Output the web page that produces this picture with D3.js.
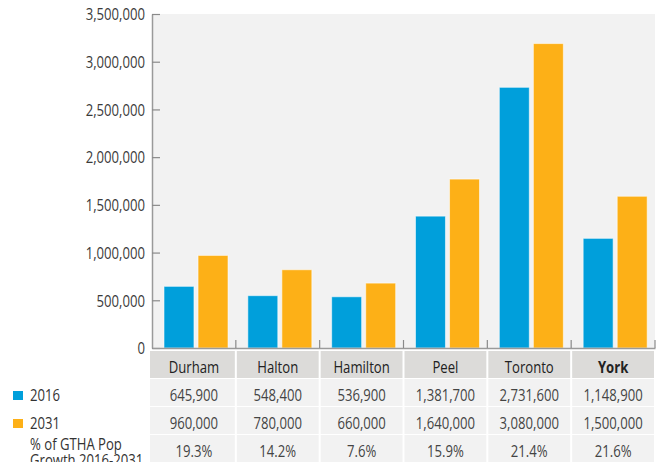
<!DOCTYPE html>
<html><head><meta charset="utf-8">
<script src="https://cdn.jsdelivr.net/npm/d3@7"></script>
<style>
html,body{margin:0;padding:0;background:#fff;}
svg text{font-family:"Open Sans",sans-serif;}
</style></head>
<body>
<svg id="c" width="657" height="462"></svg>
<script>
const categories = ["Durham","Halton","Hamilton","Peel","Toronto","York"];
const series = ["2016","2031"];
const bars2016 = [645900, 548400, 536900, 1381700, 2731600, 1148900];
const bars2031 = [970000, 820000, 680000, 1770000, 3190000, 1590000];
const table2016 = ["645,900","548,400","536,900","1,381,700","2,731,600","1,148,900"];
const table2031 = ["960,000","780,000","660,000","1,640,000","3,080,000","1,500,000"];
const tableGrowth = ["19.3%","14.2%","7.6%","15.9%","21.4%","21.6%"];
const yTicks = [0,500000,1000000,1500000,2000000,2500000,3000000,3500000];
const colors = {"2016":"#009fdb","2031":"#fdb017"};

const FS = 16, SX = 0.82; // condensed look via horizontal scaling
const svg = d3.select("#c");
const L = 152, R = 655, T = 14, B = 348;
const x0 = d3.scaleBand().domain(categories).range([L, R]).padding(0);
const x1 = d3.scaleBand().domain(series).range([12, 76]).paddingInner(0.12);
const y = d3.scaleLinear().domain([0, 3500000]).range([B, T]);

function ctext(sel, x, y, str, opts = {}) {
  return sel.append("text")
    .attr("transform", `translate(${x},${y}) scale(${SX},1)`)
    .attr("text-anchor", opts.anchor || "start")
    .attr("font-size", FS)
    .attr("font-weight", opts.weight || 400)
    .attr("fill", opts.fill || "#333")
    .text(str);
}

// plot background
svg.append("rect").attr("x", L).attr("y", T).attr("width", R - L).attr("height", B - T).attr("fill", "#f2f2f2");

// bars
const data = categories.map((c, i) => ({cat: c, vals: [{s: "2016", v: bars2016[i]}, {s: "2031", v: bars2031[i]}]}));
const g = svg.append("g").selectAll("g").data(data).join("g").attr("transform", d => `translate(${x0(d.cat)},0)`);
g.selectAll("rect").data(d => d.vals).join("rect")
  .attr("x", d => x1(d.s)).attr("width", x1.bandwidth())
  .attr("y", d => y(d.v)).attr("height", d => B - y(d.v))
  .attr("fill", d => colors[d.s])
  .attr("stroke", "rgba(255,255,255,0.55)").attr("stroke-width", 1);

// y axis
const yAxis = d3.axisLeft(y).tickValues(yTicks).tickFormat(d3.format(",")).tickSizeInner(-8).tickSizeOuter(0).tickPadding(7);
const ya = svg.append("g").attr("transform", `translate(${L},0)`).call(yAxis);
ya.select(".domain").attr("stroke", "#9a9a9a").attr("stroke-width", 1.5);
ya.selectAll(".tick line").attr("stroke", "#8a8a8a").attr("stroke-width", 1.2);
ya.selectAll(".tick text").attr("font-size", FS).attr("fill", "#3a3a3a")
  .attr("font-family", "Open Sans, sans-serif")
  .attr("x", -7 / SX).attr("dy", "0.36em")
  .attr("transform", `scale(${SX},1)`);

// baseline + category separators
const xAxis = d3.axisBottom(x0).tickSize(0).tickFormat("");
const xa = svg.append("g").attr("transform", `translate(0,${B})`).call(xAxis);
xa.select(".domain").attr("stroke", "#9a9a9a").attr("stroke-width", 1.5);
const seps = categories.map(c => x0(c) + x0.bandwidth());
svg.append("g").selectAll("line").data(seps).join("line")
  .attr("x1", d => d).attr("x2", d => d).attr("y1", B - 8).attr("y2", B)
  .attr("stroke", "#8a8a8a").attr("stroke-width", 1.2);

// table
const rowTops = [351, 379, 407, 435];
const rowH = 27;
const rows = [categories, table2016, table2031, tableGrowth];
rows.forEach((row, ri) => {
  const tg = svg.append("g");
  tg.selectAll("rect").data(categories).join("rect")
    .attr("x", (c, i) => x0(c) + (i === 0 ? -2 : 1)).attr("width", (c, i) => x0.bandwidth() - (i === 0 ? -1 : 2))
    .attr("y", rowTops[ri]).attr("height", rowH)
    .attr("fill", ri === 0 ? "#dcdbd9" : "#f2f2f2");
  row.forEach((d, i) => {
    ctext(tg, x0(categories[i]) + x0.bandwidth() / 2, rowTops[ri] + 21.5, d, {
      anchor: "middle",
      weight: (ri === 0 && categories[i] === "York") ? 700 : 400,
      fill: ri === 0 ? "#222" : "#444"
    });
  });
});

// legend
const lg = svg.append("g");
lg.selectAll("rect").data(series).join("rect")
  .attr("x", 13).attr("y", (d, i) => 391 + i * 28).attr("width", 10).attr("height", 9)
  .attr("fill", d => colors[d]);
series.forEach((s, i) => ctext(lg, 30, 400.5 + i * 28, s));
ctext(lg, 30, 450, "% of GTHA Pop");
ctext(lg, 30, 466, "Growth 2016-2031");
</script>
</body></html>
